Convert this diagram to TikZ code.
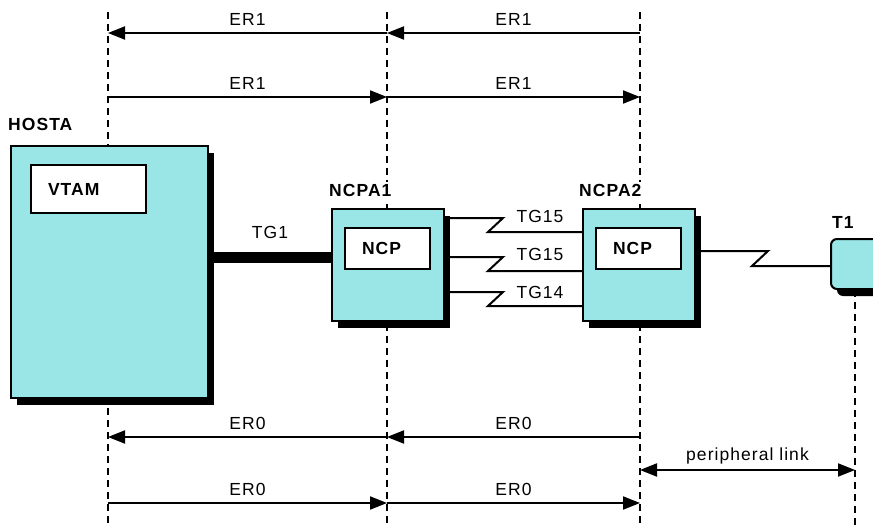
\documentclass[tikz,border=0pt]{standalone}
\usepackage{fontspec}
\setmainfont{Liberation Sans}[LetterSpace=6]
\usetikzlibrary{positioning,arrows.meta,shadows}
\definecolor{boxcyan}{RGB}{154,230,230}

\begin{document}
\begin{tikzpicture}[
			x=1pt,y=-1pt,
			font=\fontsize{17.5}{20}\selectfont,
			sysbox/.style={
				draw,
				line width=2pt,
				fill=boxcyan,
				anchor=north west,
				drop shadow={shadow xshift=6pt,shadow yshift=-7pt,fill=black,opacity=1}
			},
			inbox/.style={
				draw,
				line width=2pt,
				fill=white,
				anchor=north west,
				inner xsep=17pt,
				align=left,
				font=\fontsize{17.5}{20}\selectfont\bfseries
			},
			title/.style={font=\fontsize{17.5}{20}\selectfont\bfseries,fill=white,inner sep=2pt},
			life/.style={line width=2pt,dash pattern=on 7pt off 5pt},
			arrow/.style={-{Triangle[length=17pt,width=13pt]},line width=2pt},
			both/.style={{Triangle[length=17pt,width=13pt]}-{Triangle[length=17pt,width=13pt]},line width=2pt},
			link/.style={line width=2pt}
			]
			
			\clip (0,0) rectangle (873,527);
			
			\coordinate (a) at (108,0);
			\coordinate (b) at (387,0);
			\coordinate (c) at (640,0);
			\coordinate (d) at (855,0);
			\coordinate (top) at (0,12);
			\coordinate (bot) at (0,527);
			\coordinate (r1) at (0,33);
			\coordinate (r2) at (0,97);
			\coordinate (r3) at (0,437);
			\coordinate (rp) at (0,470);
			\coordinate (r4) at (0,503);
			
			\foreach \l in {a,b,c}
			\draw[life] (\l |- top)--(\l |- bot);
			
			\node[sysbox,minimum width=197pt,minimum height=252pt] (hosta) at (10,145) {};
			\node[inbox,text width=81pt,minimum height=48pt] (vtam) at (30,164) {VTAM};
			\node[title,above right=12pt and -4pt of hosta.north west] (hostaname) {HOSTA};
			
			\node[sysbox,minimum width=112pt,minimum height=112pt] (ncpa1) at (331,208) {};
			\node[inbox,text width=51pt,minimum height=41pt] (ncp1) at (344,227) {NCP};
			\node[title,above right=9pt and -4pt of ncpa1.north west] (ncpa1name) {NCPA1};
			
			\node[sysbox,minimum width=112pt,minimum height=112pt] (ncpa2) at (582,208) {};
			\node[inbox,text width=51pt,minimum height=41pt] (ncp2) at (595,227) {NCP};
			\node[title,above right=9pt and -5pt of ncpa2.north west] (ncpa2name) {NCPA2};
			
			\node[sysbox,rounded corners=6pt,minimum width=60pt,minimum height=50pt] (t1) at (830,238) {};
			\node[title,above right=7pt and 0pt of t1.north west] (t1name) {T1};
			
			\draw[life] (d |- t1.south)--(d |- bot);
			
			\coordinate (tg) at (0,257.5);
			\draw[line width=11pt] (hosta.east |- tg)--node[above=10pt] {TG1} (ncpa1.west |- tg);
			
			\foreach \yy/\ly/\tg in {218/216/TG15,257/254/TG15,292/292/TG14}{
				\draw[link] (ncpa1.east |- 0,\yy)--(503,\yy)--(488,{\yy+14})--(ncpa2.west |- 0,{\yy+14});
				\node (tg\yy) at (540,\ly) {\tg};
			}
			
			\draw[link] (ncpa2.east |- 0,251)--(768,251)--(752,266)--(t1.west |- 0,266);
			
			\draw[arrow] (c |- r1)--node[above=3pt] {ER1} (b |- r1);
			\draw[arrow] (b |- r1)--node[above=3pt] {ER1} (a |- r1);
			\draw[arrow] (a |- r2)--node[above=3pt] {ER1} (b |- r2);
			\draw[arrow] (b |- r2)--node[above=3pt] {ER1} (c |- r2);
			
			\draw[arrow] (c |- r3)--node[above=3pt] {ER0} (b |- r3);
			\draw[arrow] (b |- r3)--node[above=3pt] {ER0} (a |- r3);
			\draw[arrow] (a |- r4)--node[above=3pt] {ER0} (b |- r4);
			\draw[arrow] (b |- r4)--node[above=3pt] {ER0} (c |- r4);
			
			\draw[both] (c |- rp)--node[above=2pt] {peripheral link} (d |- rp);
			
		\end{tikzpicture}
\end{document}
